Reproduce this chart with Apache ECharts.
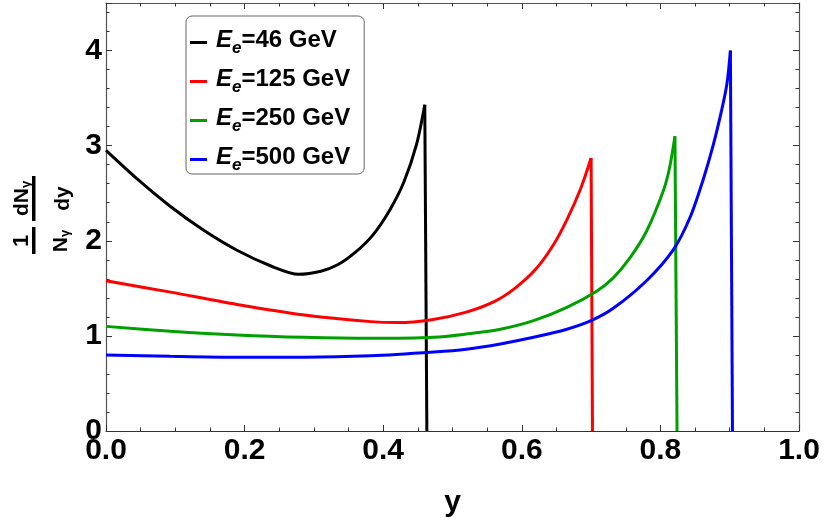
<!DOCTYPE html>
<html><head><meta charset="utf-8">
<script src="https://cdn.jsdelivr.net/npm/echarts@6/dist/echarts.min.js"></script>
<style>html,body{margin:0;padding:0;background:#fff}#c{width:826px;height:523px}</style>
</head><body><div id="c"></div>
<script>
// ---- data ----
const seriesNames = ['Ee=46 GeV', 'Ee=125 GeV', 'Ee=250 GeV', 'Ee=500 GeV'];
const seriesColors = ['#000000', '#ff0000', '#00a000', '#0000ff'];

const x46 = [0, 0.045, 0.093, 0.141, 0.189, 0.238, 0.278, 0.31, 0.335, 0.36, 0.385, 0.41, 0.43, 0.448, 0.46, 0.463];
const v46 = [2.95, 2.65, 2.36, 2.11, 1.90, 1.735, 1.648, 1.68, 1.75, 1.88, 2.06, 2.33, 2.62, 3.01, 3.43, 0];

const x125 = [0, 0.093, 0.189, 0.286, 0.382, 0.42, 0.47, 0.52, 0.56, 0.59, 0.62, 0.645, 0.665, 0.685, 0.70, 0.702];
const v125 = [1.58, 1.46, 1.33, 1.22, 1.15, 1.14, 1.17, 1.25, 1.36, 1.50, 1.70, 1.95, 2.22, 2.55, 2.87, 0];

const x250 = [0, 0.093, 0.189, 0.286, 0.382, 0.473, 0.52, 0.569, 0.617, 0.665, 0.708, 0.732, 0.756, 0.78, 0.804, 0.813, 0.821, 0.824];
const v250 = [1.10, 1.05, 1.01, 0.985, 0.974, 0.985, 1.02, 1.07, 1.16, 1.30, 1.47, 1.61, 1.82, 2.10, 2.52, 2.76, 3.10, 0];

const x500 = [0, 0.093, 0.189, 0.286, 0.382, 0.473, 0.52, 0.569, 0.617, 0.665, 0.70, 0.732, 0.78, 0.819, 0.843, 0.862, 0.876, 0.888, 0.896, 0.901, 0.904];
const v500 = [0.80, 0.785, 0.775, 0.775, 0.79, 0.83, 0.86, 0.915, 0.985, 1.07, 1.16, 1.29, 1.58, 1.91, 2.25, 2.65, 3.00, 3.36, 3.65, 4.00, 0];

const xTickStep = 0.2;
const yTickStep = 1;
const xRange = [0, 1];
const yRange = [0, 4.5];

// ---- build ----
const xsAll = [x46, x125, x250, x500];
const vsAll = [v46, v125, v250, v500];

const FONT = 'Liberation Sans';
const series = [];
seriesNames.forEach((name, i) => {
  const pts = xsAll[i].map((x, k) => [x, vsAll[i][k]]);
  const n = pts.length;
  series.push({
    name: name, type: 'line', data: pts.slice(0, n - 1),
    smooth: 0.3, showSymbol: false, symbol: 'none',
    lineStyle: { color: seriesColors[i], width: 3 }, itemStyle: { color: seriesColors[i] },
    z: 3 + i
  });
  series.push({
    name: name + ' drop', type: 'line', data: pts.slice(n - 2),
    showSymbol: false, symbol: 'none',
    lineStyle: { color: seriesColors[i], width: 3 }, itemStyle: { color: seriesColors[i] },
    z: 3 + i
  });
});

const frameColor = '#555';
function baseAxis(extra) {
  return Object.assign({
    type: 'value',
    axisLine: { show: true, onZero: false, lineStyle: { color: frameColor, width: 1.2 } },
    axisTick: { show: true, inside: true, length: 6, lineStyle: { color: '#333', width: 1 } },
    minorTick: { show: true, length: 3.5, lineStyle: { color: '#333', width: 1 } },
    splitLine: { show: false },
    minorSplitLine: { show: false }
  }, extra);
}

const chart = echarts.init(document.getElementById('c'), null, { renderer: 'canvas' });
chart.setOption({
  animation: false,
  backgroundColor: '#ffffff',
  grid: { left: 106, right: 27, top: 3, bottom: 92, containLabel: false },
  xAxis: [
    baseAxis({
      position: 'bottom', min: xRange[0], max: xRange[1], interval: xTickStep, minorTick: { show: true, splitNumber: 4, length: 3.5, lineStyle: { color: '#333' } },
      axisLine: { show: true, onZero: false, lineStyle: { color: '#333', width: 1.2 } },
      axisLabel: { show: true, margin: 5, color: '#000', fontFamily: FONT, fontWeight: 'bold', fontSize: 30,
        formatter: v => v.toFixed(1) },
      name: 'y', nameLocation: 'middle', nameGap: 57,
      nameTextStyle: { color: '#000', fontFamily: FONT, fontWeight: 'bold', fontSize: 30 }
    }),
    baseAxis({
      position: 'top', min: xRange[0], max: xRange[1], interval: xTickStep, minorTick: { show: true, splitNumber: 4, length: 3.5, lineStyle: { color: '#333' } },
      axisLabel: { show: false }
    })
  ],
  yAxis: [
    baseAxis({
      position: 'left', min: yRange[0], max: yRange[1], interval: yTickStep, minorTick: { show: true, splitNumber: 5, length: 3.5, lineStyle: { color: '#333' } },
      axisLabel: { show: true, margin: 4, color: '#000', fontFamily: FONT, fontWeight: 'bold', fontSize: 30,
        formatter: v => (Math.abs(v - Math.round(v)) < 1e-9 ? String(Math.round(v)) : '') }
    }),
    baseAxis({
      position: 'right', min: yRange[0], max: yRange[1], interval: yTickStep, minorTick: { show: true, splitNumber: 5, length: 3.5, lineStyle: { color: '#333' } },
      axisLabel: { show: false }
    })
  ],
  legend: {
    data: seriesNames,
    orient: 'vertical',
    left: 186, top: 16,
    backgroundColor: '#fff',
    borderColor: '#666', borderWidth: 1, borderRadius: 6,
    padding: [12, 14, 0, 4],
    itemGap: 10,
    itemWidth: 17, itemHeight: 3,
    icon: 'rect',
    formatter: name => '{i|E}{s|e}{t|' + name.slice(2) + '}',
    textStyle: {
      color: '#000', fontFamily: FONT, fontWeight: 'bold', fontSize: 24, padding: [0, 0, 0, 4],
      rich: {
        i: { fontFamily: FONT, fontWeight: 'bold', fontStyle: 'italic', fontSize: 24, color: '#000', verticalAlign: 'bottom', padding: [0, 0, 5, 0] },
        s: { fontFamily: FONT, fontWeight: 'bold', fontStyle: 'italic', fontSize: 17, color: '#000', verticalAlign: 'bottom' },
        t: { fontFamily: FONT, fontWeight: 'bold', fontSize: 24, color: '#000', verticalAlign: 'bottom', padding: [0, 0, 5, 0] }
      }
    }
  },
  graphic: [{
    type: 'group', x: 0, y: 256, rotation: Math.PI / 2,
    children: [
      { type: 'text', style: { text: '1', x: 15, y: 33, align: 'center', verticalAlign: 'bottom', font: 'bold 22px "Liberation Sans"', fill: '#000' } },
      { type: 'rect', shape: { x: 2, y: 32, width: 27, height: 3.5 }, style: { fill: '#000' } },
      { type: 'text', style: { text: 'N{s|γ}', x: 15, y: 51, align: 'center', verticalAlign: 'top', font: 'bold 21px "Liberation Sans"', fill: '#000',
        rich: { s: { font: 'bold 13px "Liberation Sans"', fill: '#000', verticalAlign: 'bottom' } } } },
      { type: 'text', style: { text: 'dN{s|γ}', x: 57.5, y: 33, align: 'center', verticalAlign: 'bottom', font: 'bold 21px "Liberation Sans"', fill: '#000',
        rich: { s: { font: 'bold 13px "Liberation Sans"', fill: '#000', verticalAlign: 'bottom' } } } },
      { type: 'rect', shape: { x: 35, y: 32, width: 45, height: 3.5 }, style: { fill: '#000' } },
      { type: 'text', style: { text: 'dy', x: 57.5, y: 53, align: 'center', verticalAlign: 'top', font: 'bold 21px "Liberation Sans"', fill: '#000' } }
    ]
  }],
  series: series
});
</script>
</body></html>
